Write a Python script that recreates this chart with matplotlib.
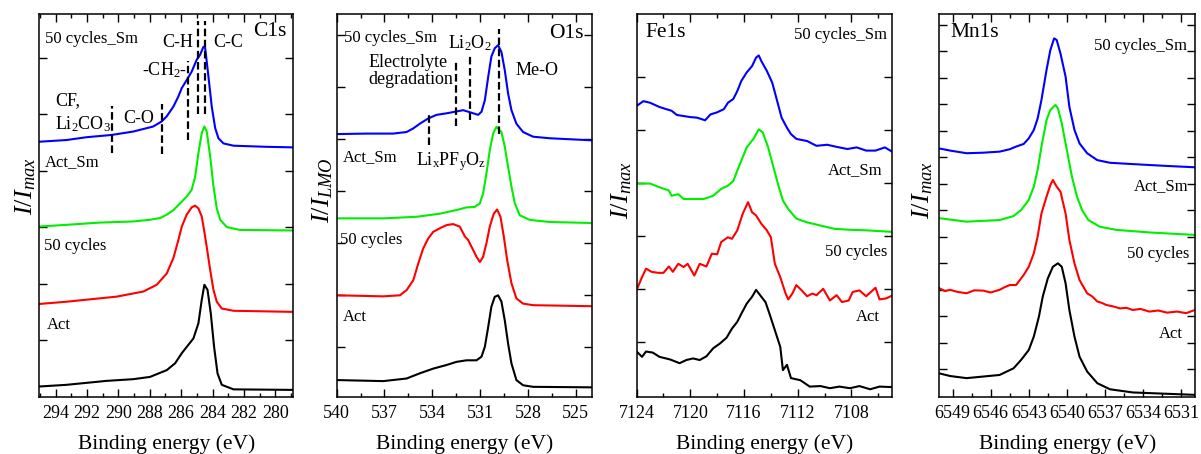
import matplotlib
matplotlib.use('Agg')
import matplotlib.pyplot as plt
from matplotlib.ticker import MultipleLocator, FixedLocator, NullFormatter

plt.rcParams['font.family'] = ['Liberation Serif', 'DejaVu Serif']
plt.rcParams['mathtext.fontset'] = 'custom'
plt.rcParams['mathtext.rm'] = 'Liberation Serif'
plt.rcParams['mathtext.it'] = 'Liberation Serif:italic'
plt.rcParams['mathtext.bf'] = 'Liberation Serif:bold'

# ---------------- C1s ----------------
C1S_SM50_E = [295.07, 293.32, 292.04, 290.44, 289.06, 287.78, 287.24, 286.92, 286.50, 286.18, 285.96, 285.65,
              285.33, 285.01, 284.79, 284.58, 284.47, 284.26, 284.05, 283.83, 283.62, 283.30, 282.66, 280.53, 278.72]
C1S_SM50_I = [4.51, 4.54, 4.59, 4.63, 4.69, 4.78, 4.87, 4.96, 5.13, 5.31, 5.46, 5.60,
              5.75, 5.96, 6.05, 6.19, 6.17, 5.66, 5.13, 4.75, 4.57, 4.48, 4.44, 4.42, 4.41]
C1S_ACTSM_E = [295.07, 293.32, 291.19, 289.06, 287.99, 287.35, 286.92, 286.50, 286.07, 285.65, 285.33, 285.11,
               284.90, 284.69, 284.52, 284.37, 284.15, 283.94, 283.73, 283.51, 283.09, 282.24, 278.72]
C1S_ACTSM_I = [3.01, 3.04, 3.08, 3.10, 3.13, 3.16, 3.22, 3.30, 3.42, 3.54, 3.66, 3.89,
               4.31, 4.66, 4.78, 4.69, 4.25, 3.72, 3.33, 3.13, 3.00, 2.95, 2.94]
C1S_C50_E = [295.07, 293.32, 292.25, 290.12, 288.42, 287.56, 286.92, 286.50, 286.18, 285.96, 285.65, 285.33,
             285.11, 284.90, 284.69, 284.54, 284.37, 284.15, 283.94, 283.73, 283.41, 282.66, 278.72]
C1S_C50_I = [1.64, 1.68, 1.71, 1.77, 1.86, 1.98, 2.18, 2.45, 2.77, 3.01, 3.22, 3.35,
             3.38, 3.33, 3.19, 2.95, 2.65, 2.24, 1.89, 1.68, 1.56, 1.52, 1.50]
C1S_ACT_E = [295.07, 293.32, 290.76, 289.06, 287.99, 286.92, 286.39, 285.96, 285.65, 285.22, 284.90, 284.69,
             284.52, 284.32, 284.11, 283.90, 283.68, 283.41, 282.66, 278.72]
C1S_ACT_I = [0.18, 0.21, 0.28, 0.31, 0.35, 0.47, 0.59, 0.77, 0.88, 1.03, 1.30, 1.71,
             1.98, 1.89, 1.47, 0.88, 0.41, 0.21, 0.13, 0.12]
C1S_MARK_E = [290.40, 287.24, 285.54, 284.90, 284.47]
C1S_MARK_LO = [4.31, 4.29, 4.54, 5.00, 5.00]
C1S_MARK_HI = [5.14, 5.18, 5.94, 6.64, 6.64]
C1S_TICKS = [294, 292, 290, 288, 286, 284, 282, 280]

# ---------------- O1s ----------------
O1S_SM50_E = [540.0, 538.12, 536.45, 535.61, 535.19, 534.78, 534.26, 533.73, 533.10, 532.58, 532.06, 531.74,
              531.43, 531.12, 530.91, 530.70, 530.49, 530.29, 530.08, 529.87, 529.66, 529.45, 529.24, 529.03,
              528.72, 528.30, 527.67, 526.63, 523.95]
O1S_SM50_I = [5.09, 5.10, 5.10, 5.13, 5.20, 5.29, 5.39, 5.46, 5.49, 5.52, 5.55, 5.52,
              5.49, 5.46, 5.52, 5.74, 6.19, 6.58, 6.74, 6.80, 6.67, 6.32, 5.87, 5.55,
              5.29, 5.13, 5.04, 5.01, 4.97]
O1S_ACTSM_E = [540.0, 537.07, 534.98, 533.52, 532.48, 531.85, 531.33, 531.01, 530.81, 530.60, 530.39, 530.18,
               529.97, 529.66, 529.45, 529.24, 529.03, 528.82, 528.51, 527.88, 526.63, 523.95]
O1S_ACTSM_I = [3.47, 3.47, 3.50, 3.56, 3.63, 3.68, 3.69, 3.76, 3.95, 4.33, 4.78, 5.10,
               5.23, 5.13, 4.85, 4.46, 4.08, 3.76, 3.53, 3.44, 3.40, 3.38]
O1S_C50_E = [540.0, 537.07, 536.03, 535.61, 535.19, 534.88, 534.57, 534.26, 533.94, 533.52, 533.10, 532.69,
             532.27, 531.95, 531.74, 531.53, 531.22, 531.01, 530.81, 530.60, 530.39, 530.14, 529.93, 529.72,
             529.51, 529.30, 529.03, 528.72, 528.30, 527.67, 523.95]
O1S_C50_I = [1.99, 1.97, 1.99, 2.09, 2.28, 2.60, 2.89, 3.08, 3.21, 3.28, 3.34, 3.36,
             3.31, 3.12, 3.05, 2.92, 2.73, 2.63, 2.73, 2.99, 3.31, 3.56, 3.64, 3.50,
             3.12, 2.67, 2.22, 1.93, 1.83, 1.80, 1.78]
O1S_ACT_E = [540.0, 537.07, 535.61, 534.78, 533.94, 533.10, 532.48, 531.85, 531.22, 530.91, 530.70, 530.49,
             530.29, 530.08, 529.87, 529.66, 529.45, 529.24, 529.03, 528.72, 528.30, 527.67, 523.95]
O1S_ACT_I = [0.36, 0.34, 0.39, 0.49, 0.58, 0.65, 0.71, 0.74, 0.74, 0.81, 1.00, 1.38,
             1.77, 1.96, 1.99, 1.87, 1.51, 1.06, 0.68, 0.36, 0.26, 0.23, 0.22]
O1S_MARK_E = [529.82, 531.64, 532.48, 534.19]
O1S_MARK_LO = [5.10, 5.36, 5.24, 4.88]
O1S_MARK_HI = [7.12, 6.62, 6.49, 5.49]
O1S_TICKS = [540, 537, 534, 531, 528, 525]

# ---------------- Fe1s ----------------
FE_SM50_E = [7124.0, 7123.5, 7123.0, 7122.3, 7121.8, 7121.4, 7121.0, 7120.5, 7120.0, 7119.5, 7118.9, 7118.5,
             7118.0, 7117.5, 7117.2, 7116.8, 7116.5, 7116.2, 7115.8, 7115.4, 7115.1, 7114.9, 7114.7, 7114.3,
             7113.9, 7113.6, 7113.2, 7112.8, 7112.5, 7112.1, 7111.3, 7110.6, 7109.8, 7109.1, 7108.3, 7107.6,
             7106.9, 7106.2, 7105.5, 7104.9]
FE_SM50_I = [5.45, 5.54, 5.51, 5.43, 5.39, 5.36, 5.28, 5.26, 5.24, 5.23, 5.18, 5.29,
             5.33, 5.39, 5.51, 5.58, 5.73, 5.92, 6.08, 6.20, 6.36, 6.40, 6.29, 6.11,
             5.89, 5.61, 5.23, 5.04, 4.92, 4.83, 4.79, 4.70, 4.72, 4.68, 4.64, 4.67,
             4.61, 4.61, 4.67, 4.58]
FE_ACTSM_E = [7124.0, 7123.0, 7122.3, 7121.6, 7121.4, 7120.9, 7120.5, 7119.8, 7119.0, 7118.3, 7117.7, 7117.2,
              7116.8, 7116.3, 7115.8, 7115.3, 7114.9, 7114.6, 7114.2, 7113.8, 7113.4, 7113.1, 7112.7, 7112.1,
              7111.3, 7110.3, 7109.3, 7108.1, 7106.9, 7104.9]
FE_ACTSM_I = [3.99, 3.99, 3.92, 3.86, 3.76, 3.79, 3.70, 3.70, 3.70, 3.76, 3.89, 3.95,
              4.04, 4.36, 4.67, 4.83, 5.01, 4.95, 4.67, 4.29, 3.92, 3.67, 3.51, 3.33,
              3.26, 3.20, 3.14, 3.12, 3.11, 3.08]
FE_C50_E = [7124.0, 7123.6, 7123.3, 7122.9, 7122.4, 7122.0, 7121.6, 7121.3, 7120.9, 7120.5, 7120.2, 7119.7,
            7119.3, 7118.8, 7118.4, 7118.0, 7117.7, 7117.2, 7116.9, 7116.5, 7116.1, 7115.7, 7115.4, 7115.1,
            7114.7, 7114.3, 7114.0, 7113.7, 7113.3, 7112.9, 7112.7, 7112.4, 7112.1, 7111.7, 7111.3, 7110.9,
            7110.6, 7110.1, 7109.6, 7109.1, 7108.7, 7108.2, 7107.9, 7107.4, 7106.9, 7106.2, 7105.9, 7105.4,
            7104.9]
FE_C50_I = [1.99, 2.23, 2.39, 2.33, 2.31, 2.31, 2.43, 2.33, 2.48, 2.42, 2.48, 2.26,
            2.48, 2.43, 2.67, 2.66, 2.89, 2.98, 2.95, 3.11, 3.42, 3.64, 3.45, 3.39,
            3.23, 3.11, 2.98, 2.48, 2.23, 1.92, 1.81, 1.92, 2.08, 1.98, 1.87, 1.92,
            1.89, 2.01, 1.79, 1.89, 1.76, 1.79, 1.95, 1.98, 1.87, 2.03, 1.81, 1.83,
            1.89]
FE_ACT_E = [7124.0, 7123.6, 7123.3, 7122.8, 7122.3, 7121.5, 7120.8, 7120.3, 7119.8, 7119.3, 7118.8, 7118.3,
            7117.8, 7117.3, 7116.9, 7116.5, 7116.2, 7115.8, 7115.4, 7115.1, 7114.8, 7114.4, 7114.1, 7113.7,
            7113.3, 7113.1, 7112.8, 7112.5, 7111.8, 7111.1, 7110.3, 7109.6, 7108.9, 7108.1, 7107.4, 7106.6,
            7105.9, 7104.9]
FE_ACT_I = [0.83, 0.73, 0.83, 0.81, 0.73, 0.68, 0.61, 0.67, 0.70, 0.67, 0.74, 0.89,
            0.98, 1.09, 1.26, 1.39, 1.54, 1.73, 1.86, 1.99, 1.89, 1.76, 1.54, 1.23,
            0.92, 0.48, 0.58, 0.33, 0.29, 0.17, 0.18, 0.14, 0.17, 0.14, 0.18, 0.12,
            0.17, 0.16]
FE_TICKS = [7124, 7120, 7116, 7112, 7108]

# ---------------- Mn1s ----------------
MN_SM50_E = [6550.05, 6549.2, 6547.9, 6546.6, 6545.3, 6544.5, 6544.0, 6543.4, 6543.0, 6542.6, 6542.3, 6542.0,
             6541.6, 6541.3, 6541.0, 6540.8, 6540.5, 6540.1, 6539.8, 6539.4, 6539.0, 6538.4, 6537.6, 6536.6,
             6534.8, 6532.1, 6529.9]
MN_SM50_I = [9.33, 9.25, 9.15, 9.17, 9.21, 9.30, 9.40, 9.50, 9.71, 10.03, 10.46, 11.16,
             12.29, 13.04, 13.48, 13.42, 12.91, 12.04, 10.90, 10.03, 9.52, 9.15, 8.89, 8.79,
             8.74, 8.67, 8.62]
MN_ACTSM_E = [6550.05, 6547.9, 6545.3, 6544.2, 6543.6, 6543.0, 6542.6, 6542.3, 6542.0, 6541.6, 6541.3, 6540.9,
              6540.7, 6540.4, 6540.0, 6539.6, 6539.2, 6538.8, 6538.3, 6537.4, 6536.1, 6533.4, 6529.9]
MN_ACTSM_I = [6.70, 6.57, 6.63, 6.78, 7.01, 7.39, 7.89, 8.52, 9.40, 10.40, 10.78, 10.97,
              10.84, 10.28, 9.27, 8.27, 7.51, 7.01, 6.63, 6.38, 6.26, 6.16, 6.07]
MN_C50_E = [6550.05, 6549.6, 6549.2, 6548.6, 6547.9, 6547.3, 6546.6, 6546.0, 6545.3, 6544.9, 6544.5, 6544.0,
            6543.4, 6543.0, 6542.6, 6542.3, 6542.0, 6541.6, 6541.3, 6541.1, 6540.8, 6540.5, 6540.1, 6539.8,
            6539.4, 6539.0, 6538.4, 6538.0, 6537.6, 6537.2, 6536.9, 6536.4, 6535.8, 6535.3, 6534.8, 6534.2,
            6533.5, 6532.8, 6532.1, 6531.3, 6530.6, 6529.9]
MN_C50_I = [4.06, 3.95, 4.00, 3.92, 3.87, 3.98, 3.97, 3.90, 4.00, 4.10, 4.18, 4.18,
            4.56, 4.87, 5.38, 6.01, 6.88, 7.51, 7.95, 8.14, 7.89, 7.70, 6.88, 5.88,
            5.00, 4.37, 3.87, 3.75, 3.56, 3.50, 3.43, 3.38, 3.30, 3.32, 3.24, 3.28,
            3.18, 3.22, 3.14, 3.18, 3.12, 3.24]
MN_ACT_E = [6550.05, 6549.2, 6547.9, 6546.6, 6545.3, 6544.2, 6543.6, 6543.0, 6542.6, 6542.2, 6541.9, 6541.5,
            6541.1, 6540.7, 6540.4, 6540.1, 6539.8, 6539.4, 6539.0, 6538.4, 6537.6, 6536.6, 6534.8, 6532.1,
            6529.9]
MN_ACT_I = [0.85, 0.75, 0.67, 0.73, 0.79, 1.04, 1.36, 1.73, 2.24, 2.99, 3.74, 4.43,
            4.87, 5.00, 4.87, 4.25, 3.24, 2.24, 1.48, 0.92, 0.48, 0.25, 0.13, 0.08,
            0.04]
MN_TICKS = [6549, 6546, 6543, 6540, 6537, 6534, 6531]

COLORS = {'sm50': '#0000ff', 'actsm': '#00ee00', 'c50': '#ff0000', 'act': '#000000'}
LW = 1.5
DASH = (0, (3.4, 1.6))
FS_LAB = 12
FS_ANN = 13
FS_TITLE = 15.5
FS_TICK = 13
FS_AX = 15.5
FS_Y = 19

fig = plt.figure(figsize=(12.01, 4.54), dpi=100)
positions = [[0.0327, 0.1262, 0.2115, 0.843],
             [0.2803, 0.1262, 0.2123, 0.843],
             [0.5301, 0.1262, 0.2123, 0.843],
             [0.7821, 0.1262, 0.2129, 0.843]]
axes = [fig.add_axes(p) for p in positions]


def style(ax, xlim, ylim, xticks, xminor, yticks, ylabel, ylab_xy):
    ax.set_xlim(*xlim)
    ax.set_ylim(*ylim)
    ax.xaxis.set_major_locator(FixedLocator(xticks))
    ax.xaxis.set_minor_locator(MultipleLocator(xminor))
    ax.yaxis.set_major_locator(FixedLocator(yticks))
    ax.yaxis.set_major_formatter(NullFormatter())
    ax.tick_params(which='both', direction='in', top=True, right=True, width=1)
    ax.tick_params(which='major', axis='x', length=6, labelsize=FS_TICK, pad=6)
    ax.tick_params(which='major', axis='y', length=6)
    ax.tick_params(which='minor', length=3)
    for s in ax.spines.values():
        s.set_linewidth(1.1)
    ax.set_xlabel('Binding energy (eV)', fontsize=FS_AX, labelpad=9)
    ax.set_ylabel(ylabel, fontsize=FS_Y)
    ax.yaxis.set_label_coords(*ylab_xy)


def draw(ax, series):
    for e, i, key in series:
        ax.plot(e, i, color=COLORS[key], lw=LW, solid_joinstyle='round')


# ---- Panel 1: C1s
ax = axes[0]
draw(ax, [(C1S_ACT_E, C1S_ACT_I, 'act'), (C1S_C50_E, C1S_C50_I, 'c50'),
          (C1S_ACTSM_E, C1S_ACTSM_I, 'actsm'), (C1S_SM50_E, C1S_SM50_I, 'sm50')])
ax.vlines(C1S_MARK_E, C1S_MARK_LO, C1S_MARK_HI, colors='black', lw=1.6, linestyles=[DASH])
style(ax, (295.05, 278.85), (0, 6.77), C1S_TICKS, 1, [1, 2, 3, 4, 5, 6], r'$I/I_{max}$', (-0.005, 0.55))
t = ax.transAxes
ax.text(0.022, 0.935, '50 cycles_Sm', transform=t, fontsize=FS_LAB, va='center')
ax.text(0.974, 0.954, 'C1s', transform=t, fontsize=FS_TITLE, va='center', ha='right')
ax.text(0.546, 0.925, 'C-H', transform=t, fontsize=FS_ANN, va='center', ha='center')
ax.text(0.745, 0.925, 'C-C', transform=t, fontsize=FS_ANN, va='center', ha='center')
ax.text(0.495, 0.854, '-CH$_2$-', transform=t, fontsize=FS_ANN, va='center', ha='center')
ax.text(0.062, 0.775, 'CF,', transform=t, fontsize=FS_ANN, va='center')
ax.text(0.062, 0.713, 'Li$_2$CO$_3$', transform=t, fontsize=FS_ANN, va='center')
ax.text(0.392, 0.727, 'C-O', transform=t, fontsize=FS_ANN, va='center', ha='center')
ax.text(0.02, 0.612, 'Act_Sm', transform=t, fontsize=FS_LAB, va='center')
ax.text(0.02, 0.394, '50 cycles', transform=t, fontsize=FS_LAB, va='center')
ax.text(0.029, 0.187, 'Act', transform=t, fontsize=FS_LAB, va='center')

# ---- Panel 2: O1s
ax = axes[1]
draw(ax, [(O1S_ACT_E, O1S_ACT_I, 'act'), (O1S_C50_E, O1S_C50_I, 'c50'),
          (O1S_ACTSM_E, O1S_ACTSM_I, 'actsm'), (O1S_SM50_E, O1S_SM50_I, 'sm50')])
ax.vlines(O1S_MARK_E, O1S_MARK_LO, O1S_MARK_HI, colors='black', lw=1.6, linestyles=[DASH])
style(ax, (540, 524), (0.04, 7.40), O1S_TICKS, 1.5, [1, 2, 3, 4, 5, 6, 7], r'$I/I_{LMO}$', (-0.005, 0.54))
t = ax.transAxes
ax.text(0.030, 0.936, '50 cycles_Sm', transform=t, fontsize=FS_LAB, va='center')
ax.text(0.967, 0.950, 'O1s', transform=t, fontsize=FS_TITLE, va='center', ha='right')
ax.text(0.438, 0.925, 'Li$_2$O$_2$', transform=t, fontsize=FS_ANN, va='center')
ax.text(0.124, 0.851, 'Electrolyte\ndegradation', transform=t, fontsize=FS_ANN, va='center',
        linespacing=0.95)
ax.text(0.703, 0.852, 'Me-O', transform=t, fontsize=FS_ANN, va='center')
ax.text(0.026, 0.627, 'Act_Sm', transform=t, fontsize=FS_LAB, va='center')
ax.text(0.311, 0.614, r'Li$_\mathrm{x}$PF$_\mathrm{y}$O$_\mathrm{z}$', transform=t, fontsize=FS_ANN,
        va='center')
ax.text(0.013, 0.409, '50 cycles', transform=t, fontsize=FS_LAB, va='center')
ax.text(0.026, 0.209, 'Act', transform=t, fontsize=FS_LAB, va='center')

# ---- Panel 3: Fe1s
ax = axes[2]
draw(ax, [(FE_ACT_E, FE_ACT_I, 'act'), (FE_C50_E, FE_C50_I, 'c50'),
          (FE_ACTSM_E, FE_ACTSM_I, 'actsm'), (FE_SM50_E, FE_SM50_I, 'sm50')])
style(ax, (7124, 7105), (-0.02, 7.18), FE_TICKS, 2, [1, 2, 3, 4, 5, 6], r'$I/I_{max}$', (-0.01, 0.54))
t = ax.transAxes
ax.text(0.036, 0.952, 'Fe1s', transform=t, fontsize=FS_TITLE, va='center')
ax.text(0.983, 0.945, '50 cycles_Sm', transform=t, fontsize=FS_LAB, va='center', ha='right')
ax.text(0.965, 0.592, 'Act_Sm', transform=t, fontsize=FS_LAB, va='center', ha='right')
ax.text(0.983, 0.379, '50 cycles', transform=t, fontsize=FS_LAB, va='center', ha='right')
ax.text(0.954, 0.207, 'Act', transform=t, fontsize=FS_LAB, va='center', ha='right')

# ---- Panel 4: Mn1s
ax = axes[3]
draw(ax, [(MN_ACT_E, MN_ACT_I, 'act'), (MN_C50_E, MN_C50_I, 'c50'),
          (MN_ACTSM_E, MN_ACTSM_I, 'actsm'), (MN_SM50_E, MN_SM50_I, 'sm50')])
style(ax, (6550.05, 6529.9), (-0.03, 14.4), MN_TICKS, 1.5, list(range(1, 15)), r'$I/I_{max}$', (-0.015, 0.54))
t = ax.transAxes
ax.text(0.042, 0.952, 'Mn1s', transform=t, fontsize=FS_TITLE, va='center')
ax.text(0.970, 0.916, '50 cycles_Sm', transform=t, fontsize=FS_LAB, va='center', ha='right')
ax.text(0.974, 0.549, 'Act_Sm', transform=t, fontsize=FS_LAB, va='center', ha='right')
ax.text(0.978, 0.373, '50 cycles', transform=t, fontsize=FS_LAB, va='center', ha='right')
ax.text(0.952, 0.163, 'Act', transform=t, fontsize=FS_LAB, va='center', ha='right')

fig.savefig('out.png', dpi=100)
